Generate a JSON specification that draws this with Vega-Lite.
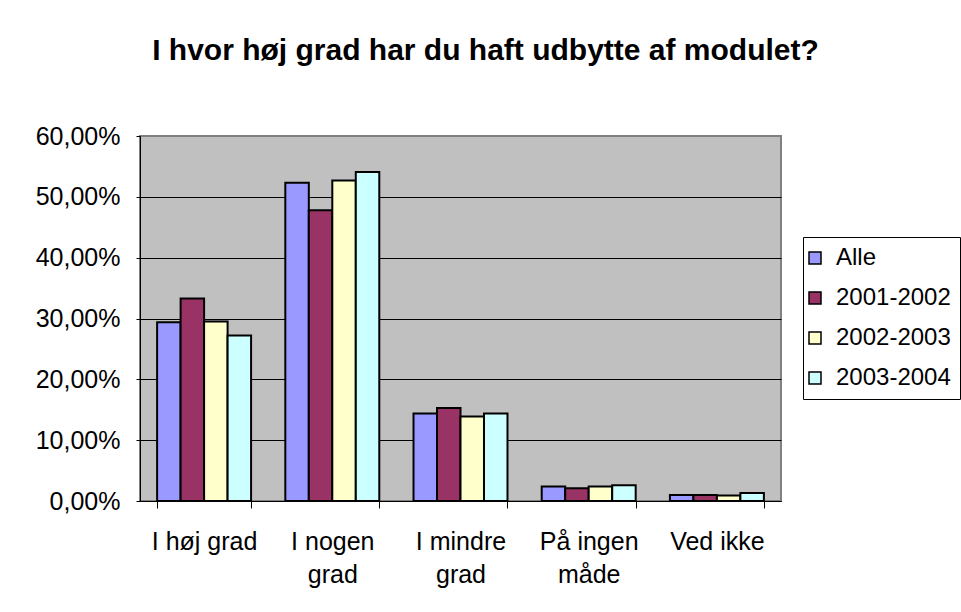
{
  "$schema": "https://vega.github.io/schema/vega-lite/v6.json",
  "autosize": {"type": "none"},
  "width": 641,
  "height": 365,
  "padding": {"left": 140, "top": 136, "right": 180, "bottom": 111},
  "background": "white",
  "title": {
    "text": "I hvor høj grad har du haft udbytte af modulet?",
    "font": "Liberation Sans",
    "fontSize": 30,
    "fontWeight": "bold",
    "color": "black",
    "anchor": "middle",
    "frame": "group",
    "dx": 25,
    "offset": 58
  },
  "data": {
    "values": [
      {"svar": "I høj grad", "gruppe": "Alle", "andel": 0.294},
      {"svar": "I høj grad", "gruppe": "2001-2002", "andel": 0.333},
      {"svar": "I høj grad", "gruppe": "2002-2003", "andel": 0.295},
      {"svar": "I høj grad", "gruppe": "2003-2004", "andel": 0.272},
      {"svar": "I nogen grad", "gruppe": "Alle", "andel": 0.523},
      {"svar": "I nogen grad", "gruppe": "2001-2002", "andel": 0.478},
      {"svar": "I nogen grad", "gruppe": "2002-2003", "andel": 0.527},
      {"svar": "I nogen grad", "gruppe": "2003-2004", "andel": 0.541},
      {"svar": "I mindre grad", "gruppe": "Alle", "andel": 0.144},
      {"svar": "I mindre grad", "gruppe": "2001-2002", "andel": 0.153},
      {"svar": "I mindre grad", "gruppe": "2002-2003", "andel": 0.139},
      {"svar": "I mindre grad", "gruppe": "2003-2004", "andel": 0.144},
      {"svar": "På ingen måde", "gruppe": "Alle", "andel": 0.024},
      {"svar": "På ingen måde", "gruppe": "2001-2002", "andel": 0.021},
      {"svar": "På ingen måde", "gruppe": "2002-2003", "andel": 0.024},
      {"svar": "På ingen måde", "gruppe": "2003-2004", "andel": 0.026},
      {"svar": "Ved ikke", "gruppe": "Alle", "andel": 0.010},
      {"svar": "Ved ikke", "gruppe": "2001-2002", "andel": 0.010},
      {"svar": "Ved ikke", "gruppe": "2002-2003", "andel": 0.009},
      {"svar": "Ved ikke", "gruppe": "2003-2004", "andel": 0.013}
    ]
  },
  "mark": {"type": "bar", "stroke": "black", "strokeWidth": 2},
  "encoding": {
    "x": {
      "field": "svar",
      "type": "nominal",
      "sort": ["I høj grad", "I nogen grad", "I mindre grad", "På ingen måde", "Ved ikke"],
      "scale": {"paddingInner": 0.267, "paddingOuter": 0.1335},
      "axis": {
        "title": null,
        "labelAngle": 0,
        "labelFont": "Liberation Sans",
        "labelFontSize": 25,
        "labelColor": "black",
        "labelPadding": 21,
        "labelLineHeight": 33,
        "labelBaseline": "top",
        "domainColor": "black",
        "domainWidth": 1,
        "tickColor": "black",
        "tickSize": 7,
        "tickBand": "extent",
        "labelExpr": "datum.label == 'I høj grad' || datum.label == 'Ved ikke' ? datum.label : [slice(datum.label, 0, lastindexof(datum.label, ' ')), slice(datum.label, lastindexof(datum.label, ' ') + 1)]"
      }
    },
    "xOffset": {
      "field": "gruppe",
      "type": "nominal",
      "sort": ["Alle", "2001-2002", "2002-2003", "2003-2004"],
      "scale": {"paddingInner": 0, "paddingOuter": 0}
    },
    "y": {
      "field": "andel",
      "type": "quantitative",
      "scale": {"domain": [0, 0.6], "nice": false},
      "axis": {
        "title": null,
        "values": [0, 0.1, 0.2, 0.3, 0.4, 0.5, 0.6],
        "labelExpr": "replace(format(datum.value, '.2%'), '.', ',')",
        "labelFont": "Liberation Sans",
        "labelFontSize": 25,
        "labelColor": "black",
        "labelPadding": 16,
        "domainColor": "black",
        "domainWidth": 1,
        "tickColor": "black",
        "tickSize": 4,
        "gridColor": "black",
        "gridWidth": 1,
        "gridOpacity": {"condition": {"test": "datum.value >= 0.6", "value": 0}, "value": 1}
      }
    },
    "color": {
      "field": "gruppe",
      "type": "nominal",
      "sort": ["Alle", "2001-2002", "2002-2003", "2003-2004"],
      "scale": {
        "domain": ["Alle", "2001-2002", "2002-2003", "2003-2004"],
        "range": ["#9999FF", "#993366", "#FFFFCC", "#CCFFFF"]
      },
      "legend": {
        "title": null,
        "orient": "none",
        "legendX": 663,
        "legendY": 101,
        "padding": 9,
        "rowPadding": 16,
        "fillColor": "white",
        "strokeColor": "black",
        "symbolType": "square",
        "symbolSize": 144,
        "symbolOffset": -9,
        "symbolStrokeColor": "black",
        "symbolStrokeWidth": 1.5,
        "symbolOpacity": 1,
        "labelFont": "Liberation Sans",
        "labelFontSize": 24,
        "labelColor": "black",
        "labelOffset": 9,
        "labelLimit": 300
      }
    }
  },
  "config": {
    "view": {"fill": "#C0C0C0", "stroke": "#808080", "strokeWidth": 2},
    "axis": {"gridDash": []}
  }
}
